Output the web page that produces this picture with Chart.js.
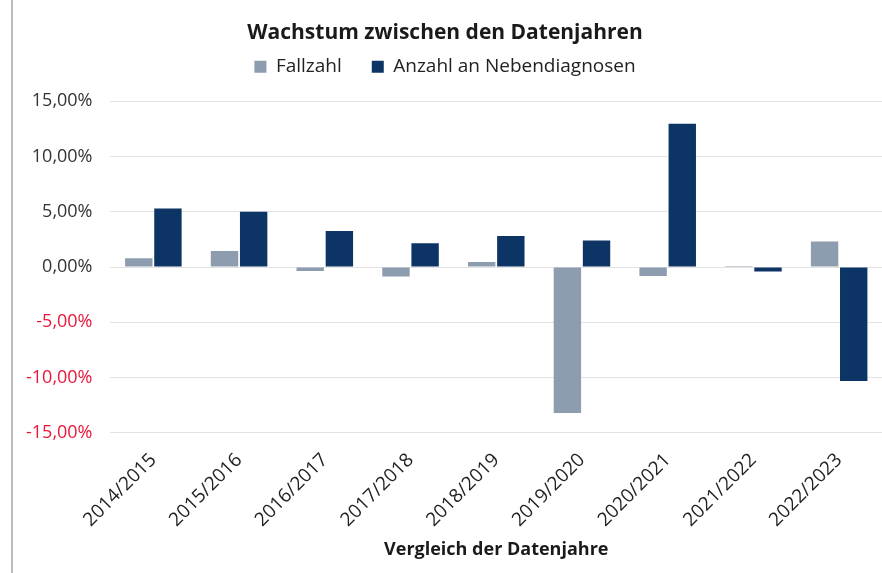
<!DOCTYPE html>
<html><head><meta charset="utf-8">
<script src="https://cdn.jsdelivr.net/npm/chart.js@4"></script>
<style>
html,body{margin:0;padding:0;background:#fff;}
#wrap{position:absolute;left:0;top:0;width:882px;height:573px;}
#line{position:absolute;left:11px;top:0;width:2px;height:573px;background:#bdbdbd;}
</style></head>
<body>
<div id="wrap"><canvas id="c" width="882" height="573"></canvas></div>
<div id="line"></div>
<script>
const categories = ["2014/2015","2015/2016","2016/2017","2017/2018","2018/2019","2019/2020","2020/2021","2021/2022","2022/2023"];
const fallzahl = [0.8, 1.45, -0.35, -0.85, 0.45, -13.2, -0.8, 0.1, 2.3];
const nebendiagnosen = [5.3, 5.0, 3.25, 2.15, 2.8, 2.4, 12.95, -0.4, -10.3];
const yTicks = [15, 10, 5, 0, -5, -10, -15];

const fmt = v => v.toFixed(2).replace('.', ',') + '%';

const legendMargin = {
  id: 'legendMargin',
  beforeInit(chart) {
    const fit = chart.legend.fit;
    chart.legend.fit = function() { fit.bind(chart.legend)(); this.height = 50; };
  },
  afterLayout(chart) {
    chart.legend.top -= 24;
  }
};

new Chart(document.getElementById('c'), {
  type: 'bar',
  data: {
    labels: categories,
    datasets: [
      {label: 'Fallzahl', data: fallzahl, backgroundColor: '#8d9cae', borderWidth: 0},
      {label: 'Anzahl an Nebendiagnosen', data: nebendiagnosen, backgroundColor: '#0c3565', borderWidth: 0}
    ]
  },
  plugins: [legendMargin],
  options: {
    responsive: false,
    animation: false,
    devicePixelRatio: 1,
    layout: {padding: {left: 8, right: 0, top: 14, bottom: 8}},
    datasets: {bar: {categoryPercentage: 0.68, barPercentage: 0.94}},
    plugins: {
      title: {display: true, text: 'Wachstum zwischen den Datenjahren', color: '#1a1a1a',
        font: {family: 'Open Sans', size: 21, weight: 'bold'}, padding: {top: 6, bottom: 6}},
      legend: {display: true, position: 'top',
        labels: {boxWidth: 12, boxHeight: 12, color: '#222', font: {family: 'Open Sans', size: 19}, padding: 30}},
      tooltip: {enabled: false}
    },
    scales: {
      x: {
        grid: {display: false},
        border: {display: false},
        ticks: {color: '#222', font: {family: 'Open Sans', size: 19}, maxRotation: 45, minRotation: 45, padding: 8},
        title: {display: true, text: 'Vergleich der Datenjahre', color: '#1a1a1a',
          font: {family: 'Open Sans', size: 18, weight: 'bold'}, padding: {top: 0}}
      },
      y: {
        min: -15, max: 15,
        afterBuildTicks: ax => { ax.ticks = yTicks.map(v => ({value: v})); },
        grid: {color: '#e3e3e3', drawTicks: false},
        border: {display: false},
        ticks: {
          padding: 18,
          font: {family: 'Open Sans', size: 18},
          color: ctx => ctx.tick.value < 0 ? '#e8173a' : '#333',
          callback: v => fmt(v)
        }
      }
    }
  }
});
</script>
</body></html>
